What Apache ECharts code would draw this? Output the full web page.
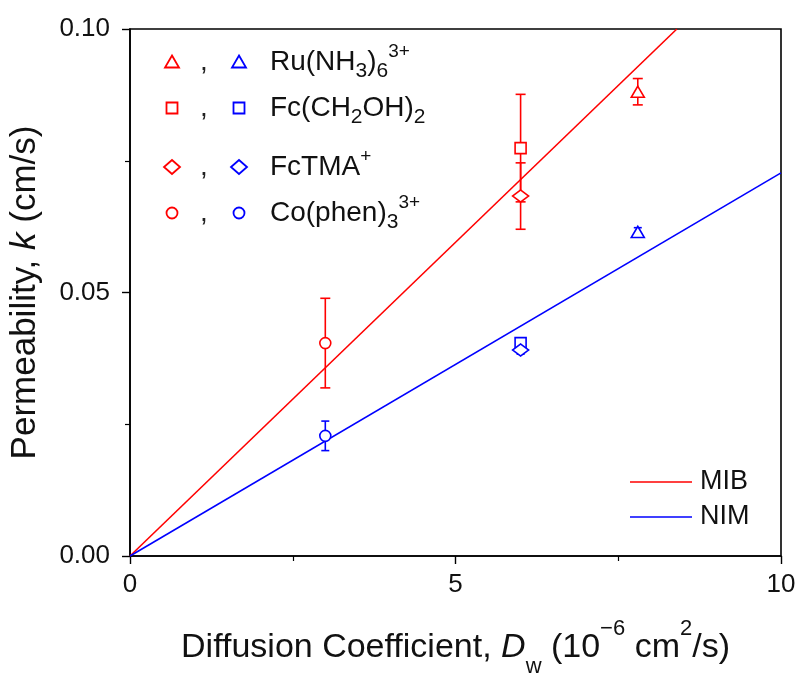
<!DOCTYPE html>
<html><head><meta charset="utf-8">
<script src="https://cdn.jsdelivr.net/npm/echarts@6/dist/echarts.min.js"></script>
<style>html,body{margin:0;padding:0;background:#fff}#c{width:801px;height:673px}</style>
</head><body><div id="c"></div>
<script>
// ---- data ----
const species   = ['Ru(NH3)6 3+', 'Fc(CH2OH)2', 'FcTMA+', 'Co(phen)3 3+'];
const diffCoef  = [7.8, 6.0, 6.0, 3.0];            // 10^-6 cm^2/s
const kMIB      = [0.0881, 0.0774, 0.0683, 0.0404]; // cm/s
const kMIBErr   = [0.0025, 0.0102, 0.0063, 0.0085];
const kNIM      = [0.0615, 0.0404, 0.0391, 0.0228];
const kNIMErr   = [0.0008, 0.0008, 0.0008, 0.0028];
const mibFit    = [[0, 0], [8.4, 0.1]];
const nimFit    = [[0, 0], [10, 0.0727]];
const fitNames  = ['MIB', 'NIM'];
const xTicks    = [0, 5, 10];
const yTicks    = [0.00, 0.05, 0.10];
const legendLabels = [
  'Ru(NH{sub|3}){sub|6}{sup|3+}',
  'Fc(CH{sub|2}OH){sub|2}',
  'FcTMA{sup|+}',
  'Co(phen){sub|3}{sup|3+}'
];

// ---- styles ----
const RED = '#ff0000', BLUE = '#0000ff';
const FONT = '"Liberation Sans", Arial, sans-serif';
const symbols = ['triangle', 'rect', 'diamond', 'circle'];
const symSizes = [[13, 11], [11, 11], [16, 12], [11, 11]];

const chart = echarts.init(document.getElementById('c'), null, {renderer: 'canvas'});

function errSeries(vals, errs, color, hw) {
  return {
    type: 'custom',
    z: 3,
    silent: true,
    clip: false,
    encode: {x: 0, y: [1, 2]},
    data: diffCoef.map((x, i) => [x, vals[i] - errs[i], vals[i] + errs[i]]),
    renderItem(params, api) {
      const x = api.value(0);
      const lo = api.coord([x, api.value(1)]);
      const hi = api.coord([x, api.value(2)]);
      const st = {stroke: color, lineWidth: 1.6};
      return {type: 'group', children: [
        {type: 'line', shape: {x1: lo[0], y1: lo[1], x2: hi[0], y2: hi[1]}, style: st},
        {type: 'line', shape: {x1: lo[0] - hw, y1: lo[1], x2: lo[0] + hw, y2: lo[1]}, style: st},
        {type: 'line', shape: {x1: hi[0] - hw, y1: hi[1], x2: hi[0] + hw, y2: hi[1]}, style: st}
      ]};
    }
  };
}

const series = [
  {type: 'line', name: fitNames[0], data: mibFit, symbol: 'none', z: 1, silent: true,
   lineStyle: {color: RED, width: 1.6}},
  {type: 'line', name: fitNames[1], data: nimFit, symbol: 'none', z: 1, silent: true,
   lineStyle: {color: BLUE, width: 1.6}},
  errSeries(kMIB, kMIBErr, RED, 5),
  errSeries(kNIM, kNIMErr, BLUE, 4)
];
[[kMIB, RED], [kNIM, BLUE]].forEach(([vals, color]) => {
  species.forEach((sp, i) => {
    series.push({
      type: 'scatter', name: sp, z: 5, silent: true,
      data: [[diffCoef[i], vals[i]]],
      symbol: symbols[i], symbolSize: symSizes[i],
      itemStyle: {color: '#fff', borderColor: color, borderWidth: 1.6, opacity: 1}
    });
  });
});

// ---- legend graphics ----
const rowY = [62, 108, 167, 213];
const graphics = [];
function legendSym(kind, cx, cy, color) {
  const st = {fill: '#fff', stroke: color, lineWidth: 1.8};
  if (kind === 'triangle') return {type: 'polygon', shape: {points: [[cx, cy - 6.5], [cx + 7, cy + 5.5], [cx - 7, cy + 5.5]]}, style: st};
  if (kind === 'rect') return {type: 'rect', shape: {x: cx - 5.5, y: cy - 5.5, width: 11, height: 11}, style: st};
  if (kind === 'diamond') return {type: 'polygon', shape: {points: [[cx, cy - 7], [cx + 8, cy], [cx, cy + 7], [cx - 8, cy]]}, style: st};
  return {type: 'circle', shape: {cx: cx, cy: cy, r: 5.5}, style: st};
}
rowY.forEach((y, i) => {
  graphics.push(legendSym(symbols[i], 172, y, RED));
  graphics.push(legendSym(symbols[i], 239, y, BLUE));
  graphics.push({type: 'text', style: {text: ',', x: 204, y: y, fill: '#222', font: '28px ' + FONT,
    align: 'center', verticalAlign: 'middle'}});
  graphics.push({type: 'text', style: {
    text: legendLabels[i], x: 270, y: y, fill: '#111',
    fontSize: 28, fontFamily: FONT, lineHeight: 40,
    align: 'left', verticalAlign: 'middle',
    rich: {
      sub: {fontSize: 21, fontFamily: FONT, lineHeight: 16, verticalAlign: 'bottom', fill: '#111'},
      sup: {fontSize: 19, fontFamily: FONT, lineHeight: 14, verticalAlign: 'top', fill: '#111'}
    }
  }});
});
[[482, RED], [517, BLUE]].forEach(([y, color], i) => {
  graphics.push({type: 'line', shape: {x1: 630, y1: y, x2: 692, y2: y}, style: {stroke: color, lineWidth: 1.6}});
  graphics.push({type: 'text', style: {text: fitNames[i], x: 700, y: y, fill: '#111',
    font: '27px ' + FONT, align: 'left', verticalAlign: 'middle'}});
});

const axisLine = {show: true, lineStyle: {color: '#000', width: 1.6}};
const option = {
  animation: false,
  backgroundColor: '#fff',
  grid: {left: 130, right: 20, top: 29, bottom: 117, show: true, borderColor: '#000', borderWidth: 1.6,
         containLabel: false, outerBoundsMode: 'none'},
  xAxis: {
    type: 'value', min: xTicks[0], max: xTicks[xTicks.length - 1], interval: xTicks[1] - xTicks[0],
    axisLine: axisLine,
    axisTick: {show: true, inside: false, length: 8, lineStyle: {color: '#000', width: 1.4}},
    minorTick: {show: true, splitNumber: 2, length: 5, lineStyle: {color: '#000', width: 1.2}},
    splitLine: {show: false},
    axisLabel: {fontSize: 26, fontFamily: FONT, color: '#111', margin: 16},
    name: 'Diffusion Coefficient, {i|D}{sub|w} (10{sup|−6} cm{sup|2}/s)',
    nameLocation: 'middle', nameGap: 62,
    nameTextStyle: {
      fontSize: 34, fontFamily: FONT, color: '#111', lineHeight: 60,
      rich: {
        i: {fontSize: 34, fontFamily: FONT, fontStyle: 'italic', color: '#111', lineHeight: 60},
        sub: {fontSize: 22, fontFamily: FONT, color: '#111', lineHeight: 22, verticalAlign: 'bottom'},
        sup: {fontSize: 22, fontFamily: FONT, color: '#111', lineHeight: 14, verticalAlign: 'top'}
      }
    }
  },
  yAxis: {
    type: 'value', min: yTicks[0], max: yTicks[yTicks.length - 1], interval: yTicks[1] - yTicks[0],
    axisLine: axisLine,
    axisTick: {show: true, inside: false, length: 8, lineStyle: {color: '#000', width: 1.4}},
    minorTick: {show: true, splitNumber: 2, length: 5, lineStyle: {color: '#000', width: 1.2}},
    splitLine: {show: false},
    axisLabel: {fontSize: 26, fontFamily: FONT, color: '#111', margin: 20, formatter: v => v.toFixed(2)},
    name: 'Permeability, {i|k} (cm/s)',
    nameLocation: 'middle', nameGap: 76,
    nameTextStyle: {
      fontSize: 35, fontFamily: FONT, color: '#111', lineHeight: 46,
      rich: {i: {fontSize: 35, fontFamily: FONT, fontStyle: 'italic', color: '#111', lineHeight: 46}}
    }
  },
  series: series,
  graphic: graphics
};
chart.setOption(option);
</script>
</body></html>
